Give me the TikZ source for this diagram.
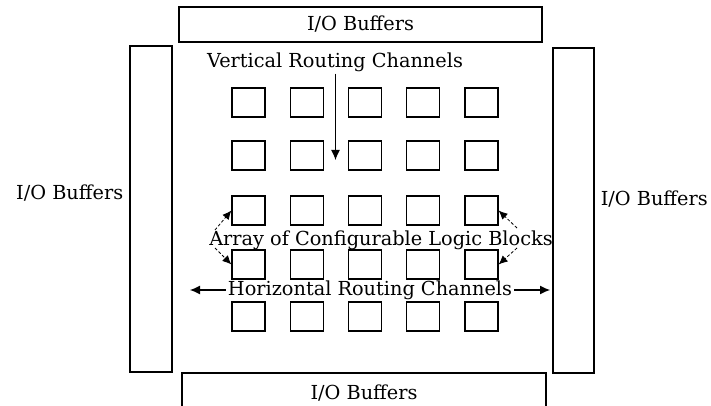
\documentclass[tikz,border=0pt]{standalone}
\usepackage{fontspec}
\setmainfont{DejaVu Serif}
\usetikzlibrary{arrows,arrows.meta}

\tikzset{
  buffer/.style={draw,line width=1.2pt,inner sep=0pt,anchor=center},
  clb/.style={draw,line width=1.2pt,minimum width=33pt,minimum height=29pt,inner sep=0pt},
  lbl/.style={font=\fontsize{19.3}{19.3}\selectfont,inner sep=2pt},
  chan/.style={-{Latex[length=10pt,width=9pt]},line width=1.1pt},
  ptr/.style={-{Latex[length=9pt,width=8pt]},line width=0.8pt,densely dashed}
}

\begin{document}
\begin{tikzpicture}[x=1pt,y=-1pt]
\useasboundingbox (0,0) rectangle (711,406);
% I/O buffers round the array
\node[buffer,minimum width=363pt,minimum height=35pt,lbl] (topbuf) at (360.5,24.5) {I/O Buffers};
\node[buffer,minimum width=364pt,minimum height=40pt,lbl] (botbuf) at (364,393) {I/O Buffers};
\node[buffer,minimum width=42pt,minimum height=326pt] (leftbuf) at (151,209) {};
\node[buffer,minimum width=41pt,minimum height=325pt] (rightbuf) at (573.5,210.5) {};
\node[lbl,left=4pt] (leftlbl) at (leftbuf.west |- 0,193) {I/O Buffers};
\node[lbl,right=4pt] (rightlbl) at (rightbuf.east |- 0,199) {I/O Buffers};
% logic blocks
\foreach \r/\y in {1/102.5,2/155.5,3/210.5,4/264.5,5/316.5}
  \foreach \c in {1,...,5}
    \node[clb] (blk-\r-\c) at ({248.5+58.25*(\c-1)},\y) {};
% labels
\node[lbl] (vlabel) at (335,62) {Vertical Routing Channels};
\node[lbl] (alabel) at (381,240) {Array of Configurable Logic Blocks};
\node[lbl] (hlabel) at (370,290) {Horizontal Routing Channels};
\coordinate (vend) at (335.5,160);
\coordinate (hl) at (190,290);
\coordinate (hr) at (550,290);
% connectors
\draw[chan] (vlabel.south -| vend) -- (vend);
\draw[chan] (hlabel.west) -- (hl);
\draw[chan] (hlabel.east) -- (hr);
\draw[ptr] (alabel.center) ++(-166,-10) -- (blk-3-1.west);
\draw[ptr] (alabel.center) ++(-166,8) -- (blk-4-1.west);
\draw[ptr] (alabel.center) ++(136,-12) -- (blk-3-5.east);
\draw[ptr] (alabel.center) ++(136,8) -- (blk-4-5.east);
\end{tikzpicture}
\end{document}
